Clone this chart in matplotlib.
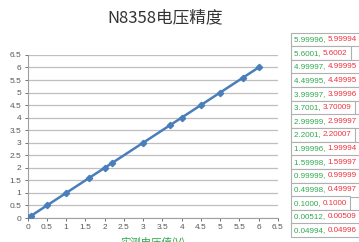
import matplotlib
matplotlib.use("Agg")
import matplotlib.pyplot as plt
from matplotlib.offsetbox import TextArea, HPacker, AnnotationBbox

plt.rcParams['font.family'] = ['Noto Sans CJK SC', 'DejaVu Sans']

# data (set value x, measured value y), in the order of the data labels (bottom to top)
x_set = [0.04994, 0.00512, 0.1000, 0.49998, 0.99999, 1.59998, 1.99996, 2.2001,
         2.99999, 3.7001, 3.99997, 4.49995, 4.99997, 5.6001, 5.99996]
y_meas = [0.04996, 0.00509, 0.1000, 0.49997, 0.99999, 1.59997, 1.99994, 2.20007,
          2.99997, 3.70009, 3.99996, 4.49995, 4.99995, 5.6002, 5.99994]
x_lbl = ["0.04994", "0.00512", "0.1000", "0.49998", "0.99999", "1.59998", "1.99996", "2.2001",
         "2.99999", "3.7001", "3.99997", "4.49995", "4.99997", "5.6001", "5.99996"]
y_lbl = ["0.04996", "0.00509", "0.1000", "0.49997", "0.99999", "1.59997", "1.99994", "2.20007",
         "2.99997", "3.70009", "3.99996", "4.49995", "4.99995", "5.6002", "5.99994"]
ticks = [0, 0.5, 1, 1.5, 2, 2.5, 3, 3.5, 4, 4.5, 5, 5.5, 6, 6.5]
tick_labels = ["0", "0.5", "1", "1.5", "2", "2.5", "3", "3.5", "4", "4.5", "5", "5.5", "6", "6.5"]
title = "N8358电压精度"
xlabel = "实测电压值(V)"

lblfont = ['Liberation Sans', 'DejaVu Sans']

fig = plt.figure(figsize=(3.59, 2.42), dpi=100)
ax = fig.add_axes([0.077, 0.099, 0.697, 0.674])

ax.plot(x_set, y_meas, color="#4A7EBB", lw=1.8, marker="D", ms=3.2, zorder=3)
ax.set_xlim(0, 6.5)
ax.set_ylim(0, 6.5)
ax.set_xticks(ticks)
ax.set_xticklabels(tick_labels, family=lblfont)
ax.set_yticks(ticks)
ax.set_yticklabels(tick_labels, family=lblfont)
ax.tick_params(labelsize=6, colors="#595959", length=2.5, width=0.6, pad=2)
ax.grid(axis='y', color="#BFBFBF", lw=0.9)
ax.set_axisbelow(True)
for s in ["top", "right"]:
    ax.spines[s].set_visible(False)
for s in ["left", "bottom"]:
    ax.spines[s].set_color("#A0A0A0")
    ax.spines[s].set_linewidth(0.8)

fig.text(0.46, 0.925, title, ha="center", va="center", fontsize=12, color="#333333")
fig.text(0.424, 0.02, xlabel, ha="center", va="top", fontsize=7.5, color="#2EA84E")

# data label boxes on the right, top (largest) to bottom
n = len(x_lbl)
y0 = 1 - 36 / 242
dy = 13.64 / 242
for i, idx in enumerate(range(n - 1, -1, -1)):
    ta1 = TextArea(x_lbl[idx] + ", ", textprops=dict(color="#2EA84E", fontsize=5.8, family=lblfont))
    ta2 = TextArea(y_lbl[idx], textprops=dict(color="#F0303C", fontsize=5.8, family=lblfont))
    pack = HPacker(children=[ta1, ta2], align="center", pad=0, sep=0)
    ab = AnnotationBbox(pack, (294 / 359, y0 - i * dy), xycoords="figure fraction",
                        box_alignment=(0, 1), frameon=True, pad=0.25,
                        bboxprops=dict(edgecolor="#B0B0B0", facecolor="white", lw=0.8))
    fig.add_artist(ab)

fig.savefig("out.png", dpi=100)
